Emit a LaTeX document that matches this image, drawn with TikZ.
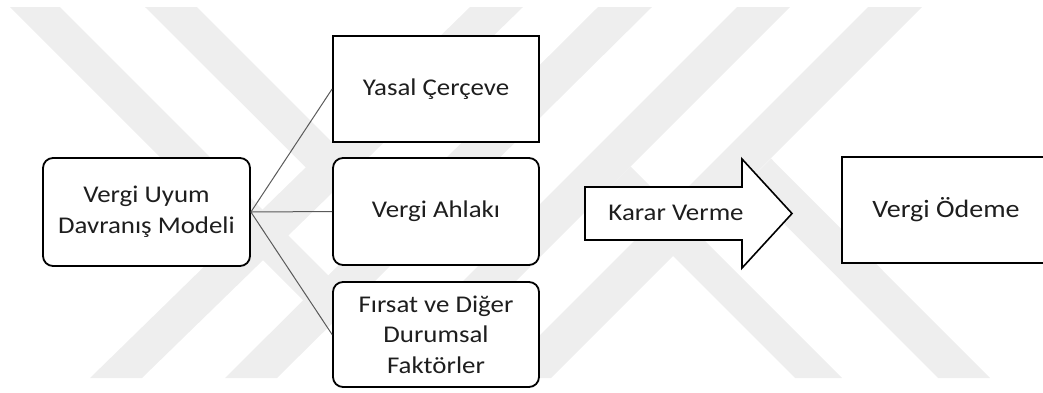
\documentclass[tikz,border=0pt]{standalone}
\usepackage{fontspec}
\setmainfont{Carlito}[FakeStretch=1.12]
\definecolor{wm}{RGB}{238,238,238}
\definecolor{connc}{RGB}{90,90,90}
\definecolor{txt}{RGB}{30,30,30}
\begin{document}
\begin{tikzpicture}[x=1pt,y=-1pt,
  box/.style={draw=black, line width=1.8pt, fill=white, align=center, inner sep=0pt, text=txt,
    minimum width=206pt, minimum height=107pt, font=\fontsize{24}{30.5}\selectfont},
  rbox/.style={box, rounded corners=10pt},
  connector/.style={draw=connc, line width=1pt},
  band/.style={fill=wm},
  arrowshape/.style={draw=black, line width=1.6pt, fill=white, line join=miter},
  lbl/.style={font=\fontsize{24}{30.5}\selectfont, inner sep=0pt, text=txt}]
\useasboundingbox (0,0) rectangle (1043,392);
% watermark
\begin{scope}
  \clip (0,7) rectangle (1043,378);
  \fill[band] (10,7) -- (60,7) -- (329,276) -- (304,301) -- cycle;
  \fill[band] (145,7) -- (197,7) -- (333.5,143.5) -- (308,169.5) -- cycle;
  \fill[band] (470,7) -- (523,7) -- (142,378) -- (90,378) -- cycle;
  \fill[band] (598,7) -- (652,7) -- (277,378) -- (225,378) -- cycle;
  \fill[band] (737,7) -- (790,7) -- (419,378) -- (366,378) -- cycle;
  \fill[band] (868,7) -- (922,7) -- (551,378) -- (497,378) -- cycle;
  \fill[band] (795,378) -- (842,378) -- (630.5,166.5) -- (607,190) -- cycle;
  \fill[band] (938,378) -- (990,378) -- (771,158.5) -- (745,184.5) -- cycle;
\end{scope}
% nodes
\node[rbox, minimum width=207pt, minimum height=108pt] (uyum) at (146.5,212) {Vergi Uyum\\Davranış Modeli};
\node[box, minimum height=106pt] (yasal) at (436,89) {Yasal Çerçeve};
\node[rbox] (ahlak) at (436,211.5) {Vergi Ahlakı};
\node[rbox, minimum height=105pt] (firsat) at (436,334.5) {Fırsat ve Diğer\\Durumsal\\Faktörler};
% connectors
\draw[connector] (uyum.east) -- (yasal.west);
\draw[connector] (uyum.east) -- (ahlak.west);
\draw[connector] (uyum.east) -- (firsat.west);
% arrow
\draw[arrowshape] (585,187) -- (742,187) -- (742,159) -- (792,213.5) -- (742,268) -- (742,240) -- (585,240) -- cycle;
\node[lbl] (karar) at (676,213) {Karar Verme};
% payment box (cut at right edge)
\begin{scope}
  \clip (0,0) rectangle (1043,392);
  \node[box, minimum width=208pt, minimum height=106pt, font=\fontsize{25}{31}\selectfont] (odeme) at (946,210) {Vergi Ödeme};
\end{scope}
\end{tikzpicture}
\end{document}
